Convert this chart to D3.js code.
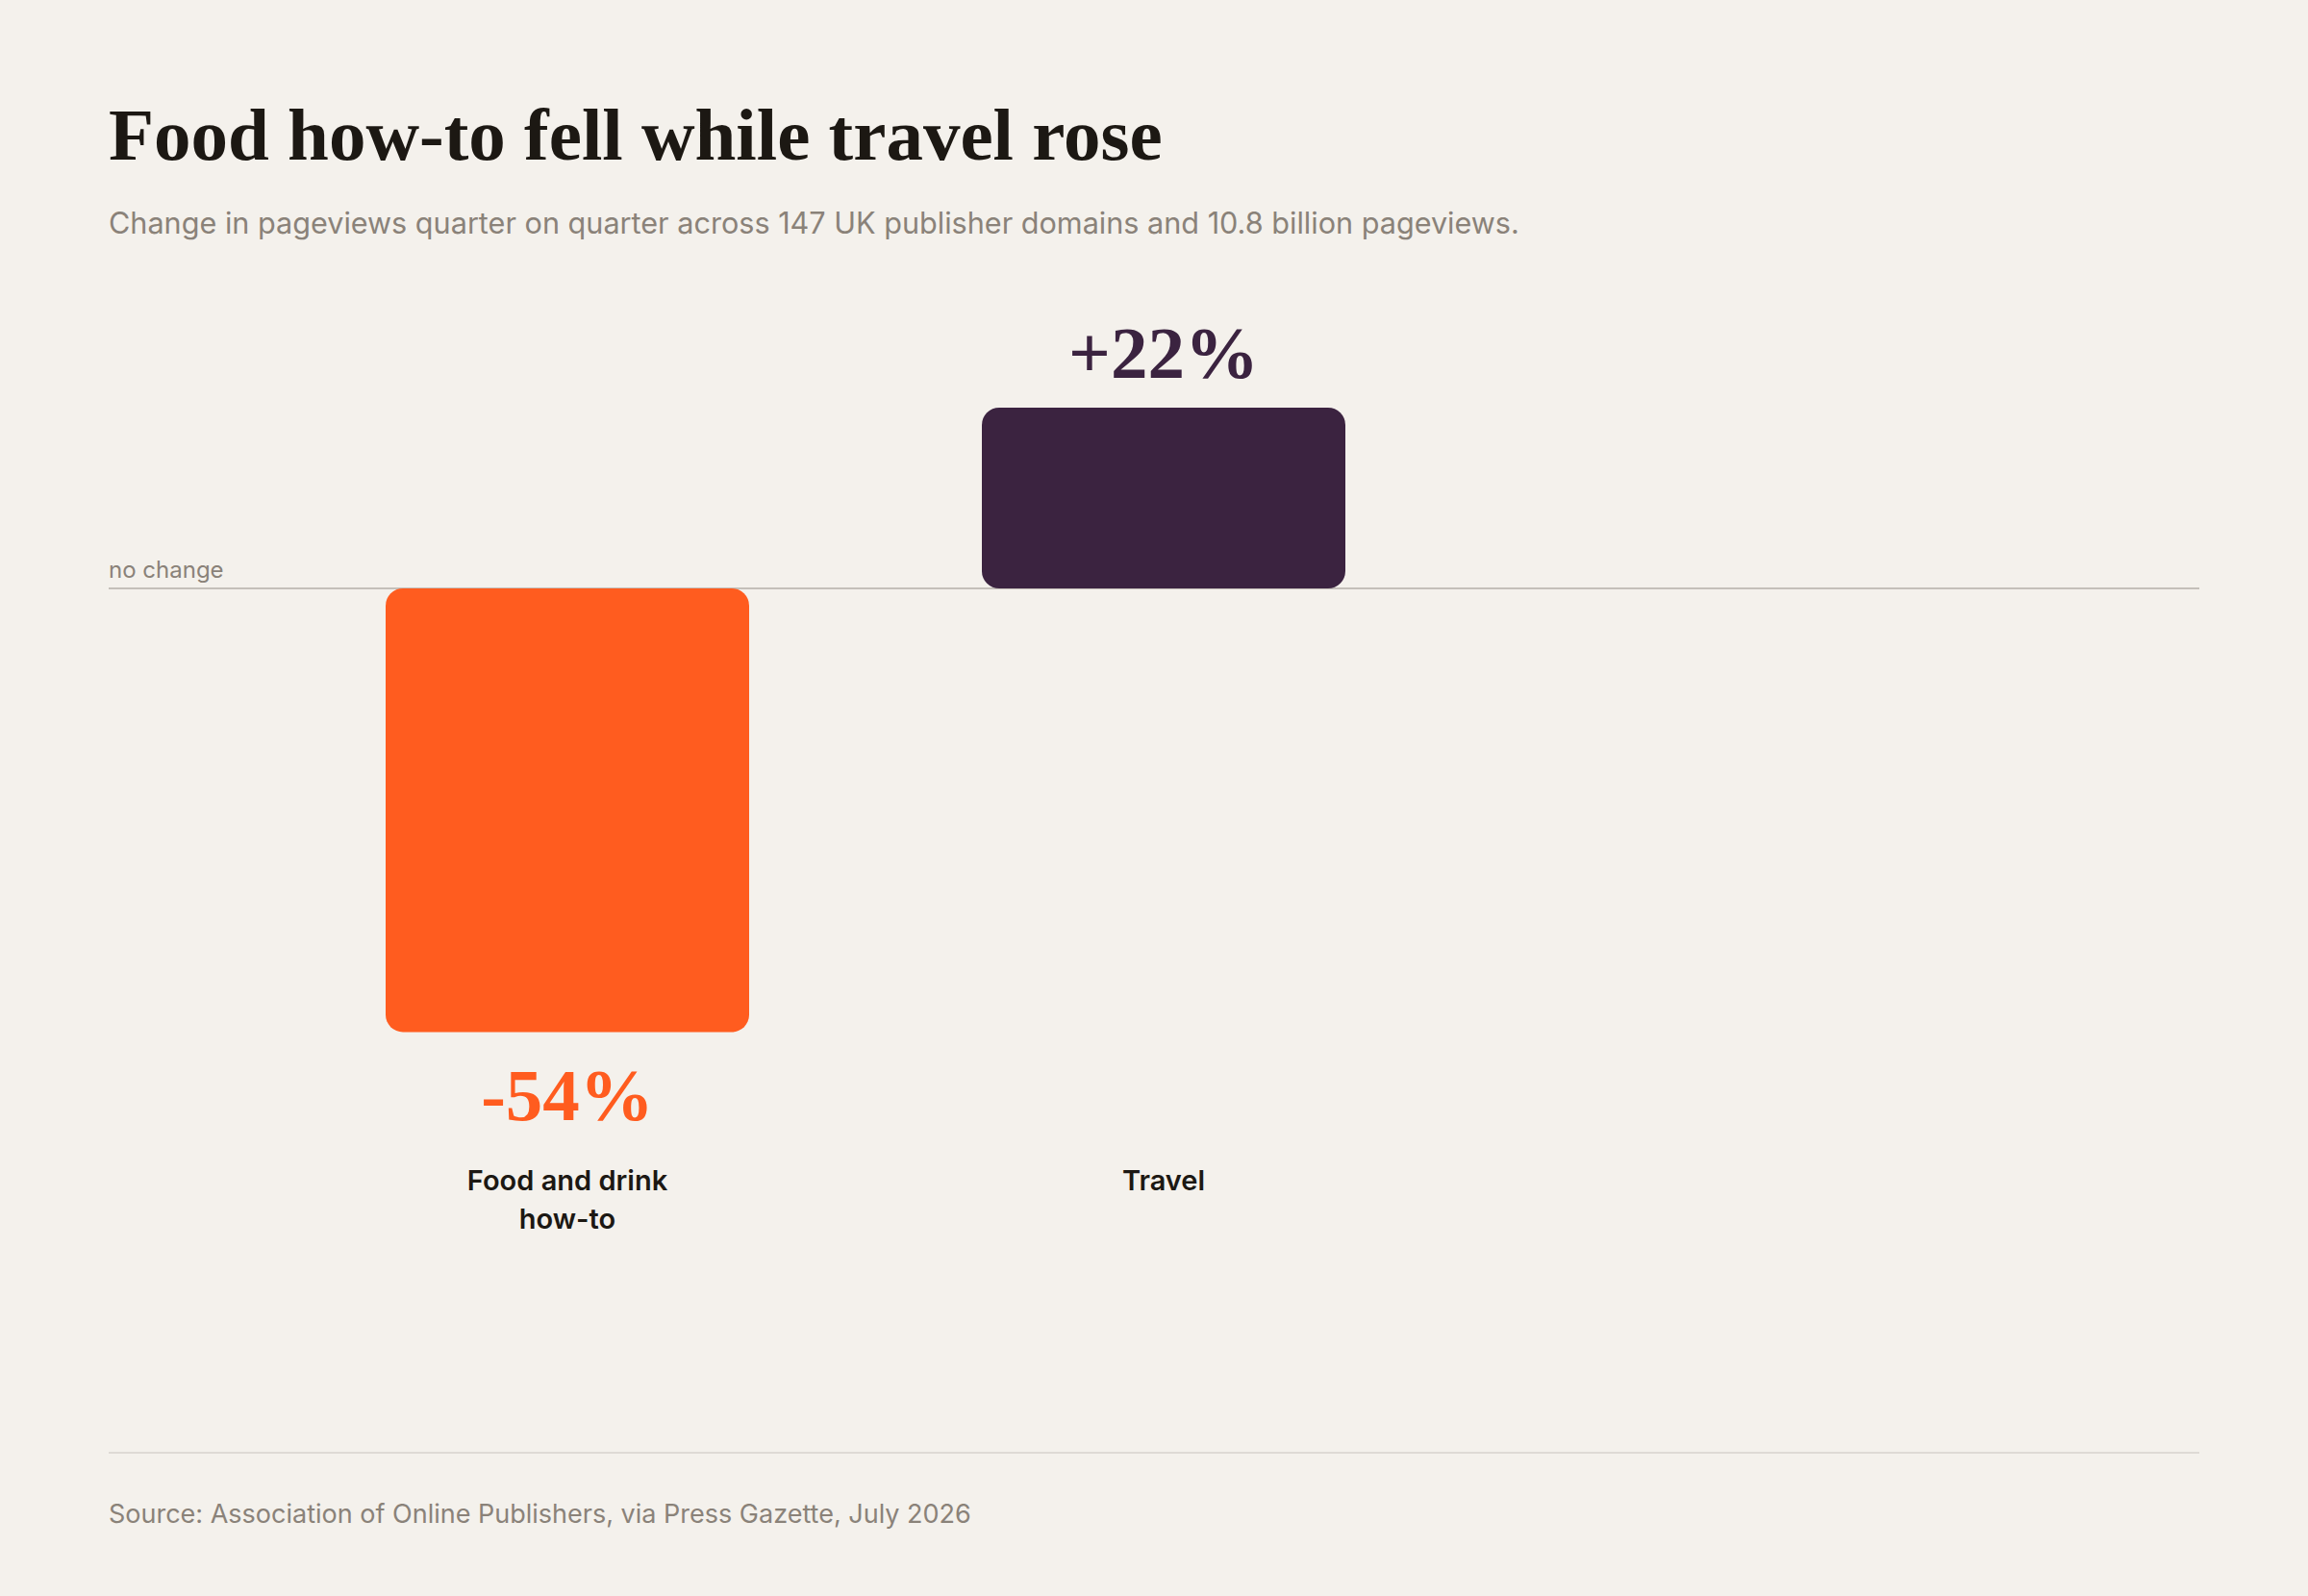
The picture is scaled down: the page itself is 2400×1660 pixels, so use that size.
<!DOCTYPE html>
<html>
<head>
<meta charset="utf-8">
<script src="https://cdn.jsdelivr.net/npm/d3@7"></script>
<style>
  html, body { margin: 0; padding: 0; background: #f4f1ec; }
  svg { display: block; }
</style>
</head>
<body>
<div id="chart"></div>
<script>
// data
var categories = ["Food and drink how-to", "Travel"];
var labelLines = [["Food and drink", "how-to"], ["Travel"]];
var values = [-54, 22];
var valueLabels = ["-54%", "+22%"];
var colors = ["#ff5c1f", "#3b2340"];

var W = 2400, H = 1660;
var left = 113, right = 2287;
var zeroY = 612;
var barW = 378;

var svg = d3.select("#chart").append("svg")
    .attr("width", W)
    .attr("height", H);

svg.append("rect").attr("width", W).attr("height", H).attr("fill", "#f4f1ec");

var serif = "'Liberation Serif', 'DejaVu Serif', serif";
var sans = "Inter, 'Noto Sans', sans-serif";

// title + subtitle
svg.append("text")
    .attr("x", left).attr("y", 166)
    .style("font-family", serif)
    .style("font-weight", 700)
    .style("font-size", "77px")
    .attr("fill", "#1c1813")
    .text("Food how-to fell while travel rose");

svg.append("text")
    .attr("x", left).attr("y", 243)
    .style("font-family", sans)
    .style("font-size", "30.6px")
    .attr("fill", "#8a8279")
    .text("Change in pageviews quarter on quarter across 147 UK publisher domains and 10.8 billion pageviews.");

// scales
var x = d3.scalePoint()
    .domain(categories)
    .range([590, 1210]);

var y = d3.scaleLinear()
    .domain([0, 22])
    .range([zeroY, 424]);

// zero line
svg.append("line")
    .attr("x1", left).attr("x2", right)
    .attr("y1", y(0)).attr("y2", y(0))
    .attr("stroke", "#c4bfb9")
    .attr("stroke-width", 2);

svg.append("text")
    .attr("x", left).attr("y", y(0) - 11)
    .style("font-family", sans)
    .style("font-size", "24px")
    .attr("fill", "#8a8279")
    .text("no change");

// bars
var bars = svg.append("g").selectAll("g")
    .data(values)
    .enter().append("g");

bars.append("rect")
    .attr("x", function(d, i) { return x(categories[i]) - barW / 2; })
    .attr("y", function(d) { return d > 0 ? y(d) : y(0); })
    .attr("width", barW)
    .attr("height", function(d) { return Math.abs(y(d) - y(0)); })
    .attr("rx", 18).attr("ry", 18)
    .attr("fill", function(d, i) { return colors[i]; });

bars.append("text")
    .attr("x", function(d, i) { return x(categories[i]); })
    .attr("y", function(d) { return d > 0 ? y(d) - 31 : y(d) + 92; })
    .attr("text-anchor", "middle")
    .style("font-family", serif)
    .style("font-weight", 700)
    .style("font-size", "77px")
    .attr("fill", function(d, i) { return colors[i]; })
    .text(function(d, i) { return valueLabels[i]; });

// category labels
bars.each(function(d, i) {
    var t = d3.select(this).append("text")
        .attr("text-anchor", "middle")
        .style("font-family", sans)
        .style("font-weight", 600)
        .style("font-size", "29px")
        .attr("fill", "#1c1813");
    labelLines[i].forEach(function(line, k) {
        t.append("tspan")
            .attr("x", x(categories[i]))
            .attr("y", 1238 + k * 40)
            .text(line);
    });
});

// footer
svg.append("line")
    .attr("x1", left).attr("x2", right)
    .attr("y1", 1511).attr("y2", 1511)
    .attr("stroke", "#dedad5")
    .attr("stroke-width", 2);

svg.append("text")
    .attr("x", left).attr("y", 1584)
    .style("font-family", sans)
    .style("font-size", "27px")
    .attr("fill", "#8a8279")
    .text("Source: Association of Online Publishers, via Press Gazette, July 2026");
</script>
</body>
</html>
